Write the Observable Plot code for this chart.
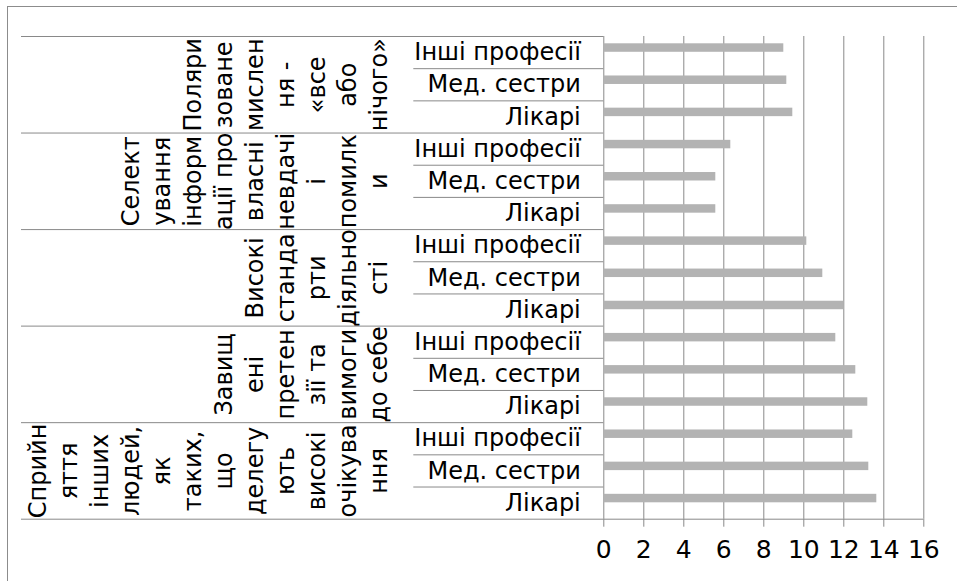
<!DOCTYPE html>
<html><head><meta charset="utf-8">
<script src="https://cdn.jsdelivr.net/npm/d3@7"></script>
<script src="https://cdn.jsdelivr.net/npm/@observablehq/plot@0.6"></script>
<style>
body{margin:0;background:#fff;}
#wrap{position:relative;width:957px;height:581px;overflow:hidden;background:#fff;}
#border{position:absolute;left:7px;top:6px;width:2000px;height:2000px;border-left:1px solid #8c8c8c;border-top:1px solid #8c8c8c;}
#wrap svg{position:absolute;left:0;top:0;}
</style></head><body><div id="wrap"><div id="border"></div></div>
<script>
// Groups (top to bottom) and how their labels wrap in the reference
const groups = [
  "Поляризоване мислення - «все або нічого»",
  "Селектування інформації про власні невдачі і помилки",
  "Високі стандарти діяльності",
  "Завищені претензії та вимоги до себе",
  "Сприйняття інших людей, як таких, що делегують високі очікування"
];
const groupLines = [
  ["Поляри", "зоване", "мислен", "ня -", "«все", "або", "нічого»"],
  ["Селект", "ування", "інформ", "ації про", "власні", "невдачі", "і", "помилк", "и"],
  ["Високі", "станда", "рти", "діяльно", "сті"],
  ["Завищ", "ені", "претен", "зії та", "вимоги", "до себе"],
  ["Сприйн", "яття", "інших", "людей,", "як", "таких,", "що", "делегу", "ють", "високі", "очікува", "ння"]
];
const professions = ["Інші професії", "Мед. сестри", "Лікарі"];
const valuesOther   = [9.0, 6.35, 10.15, 11.6, 12.45];
const valuesNurses  = [9.15, 5.6, 10.95, 12.6, 13.25];
const valuesDoctors = [9.45, 5.6, 12.0, 13.2, 13.65];
const xTicks = [0, 2, 4, 6, 8, 10, 12, 14, 16];

const series = [valuesOther, valuesNurses, valuesDoctors];
const rows = [];
groups.forEach((g, gi) => {
  series.forEach((vals, pi) => {
    rows.push({group: g, profession: professions[pi], value: vals[gi], row: gi * professions.length + pi});
  });
});
const nRows = rows.length;
const groupData = groups.map((g, gi) => ({name: g, label: groupLines[gi].join("\n"), center: gi * professions.length + professions.length / 2}));
const groupBounds = d3.range(groups.length + 1).map(i => i * professions.length);
const subBounds = rows.filter(d => d.row % professions.length !== 0).map(d => d.row);

const lineColor = "#898989";
const fontFamily = "'DejaVu Sans', sans-serif";
const labelSize = 24;

const chart = Plot.plot({
  width: 957,
  height: 581,
  marginLeft: 603.3,
  marginRight: 33.7,
  marginTop: 36,
  marginBottom: 62.3,
  style: {fontFamily, color: "#000", background: "transparent", overflow: "visible"},
  x: {domain: [0, 16]},
  y: {domain: [0, nRows], reverse: true, axis: null},
  marks: [
    Plot.ruleX(xTicks, {stroke: lineColor, strokeWidth: 1}),
    Plot.axisX({ticks: xTicks, tickSize: 8, tickPadding: 13, fontSize: 25, stroke: lineColor, label: null, tickFormat: d => String(d)}),
    Plot.rect(rows, {x1: 0, x2: "value", y1: "row", y2: d => d.row + 1, insetTop: 7.3, insetBottom: 16.4, fill: "#b3b3b3"}),
    Plot.ruleY([nRows], {stroke: lineColor}),
    Plot.ruleY(groupBounds, {x1: 0, x2: 0, insetLeft: -582.3, stroke: lineColor}),
    Plot.ruleY(subBounds, {x1: 0, x2: 0, insetLeft: -190, stroke: lineColor}),
    Plot.text(rows, {y: d => d.row + 0.5, text: "profession", frameAnchor: "left", dx: -23, textAnchor: "end", fontSize: labelSize, fill: "#000"}),
    Plot.text(groupData, {y: "center", text: "label", frameAnchor: "left", dx: -216.6, rotate: -90, lineAnchor: "bottom", lineHeight: 31 / labelSize, fontSize: labelSize, textAnchor: "middle", fill: "#000"})
  ]
});
document.getElementById("wrap").appendChild(chart);
</script>
</body></html>
